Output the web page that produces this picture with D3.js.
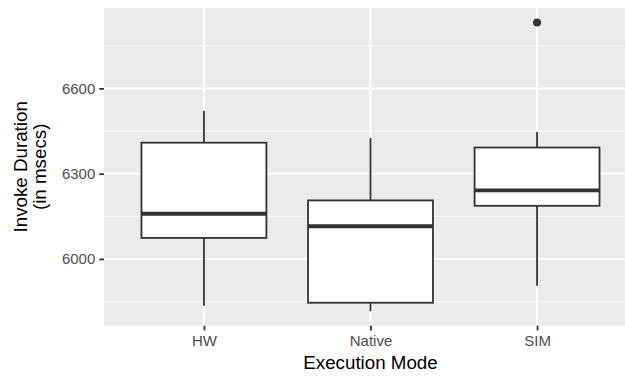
<!DOCTYPE html>
<html>
<head>
<meta charset="utf-8">
<script src="https://cdn.jsdelivr.net/npm/d3@7"></script>
<style>
  body { margin: 0; background: #fff; }
  text { font-family: "Liberation Sans", Arial, sans-serif; }
</style>
</head>
<body>
<div id="chart"></div>
<script>
const modes = ["HW", "Native", "SIM"];
const lowerWhisker = [5835, 5816, 5906];
const q1 = [6074, 5846, 6187];
const median = [6159, 6115, 6241];
const q3 = [6409, 6206, 6392];
const upperWhisker = [6521, 6425, 6447];
const outliers = [[], [], [6832]];
const yTicks = [6000, 6300, 6600];
const yMinorTicks = [5850, 6150, 6450, 6750];

const width = 625;
const height = 376;
const panel = { left: 104, top: 8, right: 637, bottom: 325.7 };

const svg = d3
  .select("#chart")
  .append("svg")
  .attr("width", width)
  .attr("height", height);

// ggplot-style 5% expansion around all data
const allVals = lowerWhisker.concat(upperWhisker, outliers.flat());
const lo = d3.min(allVals);
const hi = d3.max(allVals);
const pad = (hi - lo) * 0.05;

const y = d3
  .scaleLinear()
  .domain([lo - pad, hi + pad])
  .range([panel.bottom, panel.top]);

const x = d3
  .scalePoint()
  .domain(modes)
  .range([panel.left, panel.right])
  .padding(0.6);

const boxW = x.step() * 0.75;

svg
  .append("rect")
  .attr("x", panel.left)
  .attr("y", panel.top)
  .attr("width", panel.right - panel.left)
  .attr("height", panel.bottom - panel.top)
  .attr("fill", "#EBEBEB");

// grid
svg
  .selectAll(".minor")
  .data(yMinorTicks)
  .enter()
  .append("line")
  .attr("x1", panel.left)
  .attr("x2", panel.right)
  .attr("y1", (d) => y(d))
  .attr("y2", (d) => y(d))
  .attr("stroke", "#fff")
  .attr("stroke-width", 0.9);

svg
  .selectAll(".major")
  .data(yTicks)
  .enter()
  .append("line")
  .attr("x1", panel.left)
  .attr("x2", panel.right)
  .attr("y1", (d) => y(d))
  .attr("y2", (d) => y(d))
  .attr("stroke", "#fff")
  .attr("stroke-width", 1.8);

svg
  .selectAll(".vmajor")
  .data(modes)
  .enter()
  .append("line")
  .attr("x1", (d) => x(d))
  .attr("x2", (d) => x(d))
  .attr("y1", panel.top)
  .attr("y2", panel.bottom)
  .attr("stroke", "#fff")
  .attr("stroke-width", 1.8);

// axes
const yAxis = svg
  .append("g")
  .attr("transform", `translate(${panel.left},0)`)
  .call(
    d3.axisLeft(y).tickValues(yTicks).tickFormat(d3.format("d")).tickSize(4.7).tickPadding(4)
  );
const xAxis = svg
  .append("g")
  .attr("transform", `translate(0,${panel.bottom})`)
  .call(d3.axisBottom(x).tickSize(4.7).tickPadding(4));

[yAxis, xAxis].forEach((g) => {
  g.select(".domain").remove();
  g.selectAll(".tick line").attr("stroke", "#333333").attr("stroke-width", 1.8);
  g.selectAll(".tick text")
    .attr("fill", "#4D4D4D")
    .style("font-size", "15px")
    .style("font-family", '"Liberation Sans", Arial, sans-serif');
});
xAxis.selectAll(".tick text").attr("dy", "0.75em");

// boxes
const idx = d3.range(modes.length);
const box = svg.selectAll(".box").data(idx).enter().append("g");

box
  .append("line")
  .attr("x1", (i) => x(modes[i]))
  .attr("x2", (i) => x(modes[i]))
  .attr("y1", (i) => y(upperWhisker[i]))
  .attr("y2", (i) => y(q3[i]))
  .attr("stroke", "#333333")
  .attr("stroke-width", 1.8);

box
  .append("line")
  .attr("x1", (i) => x(modes[i]))
  .attr("x2", (i) => x(modes[i]))
  .attr("y1", (i) => y(q1[i]))
  .attr("y2", (i) => y(lowerWhisker[i]))
  .attr("stroke", "#333333")
  .attr("stroke-width", 1.8);

box
  .append("rect")
  .attr("x", (i) => x(modes[i]) - boxW / 2)
  .attr("width", boxW)
  .attr("y", (i) => y(q3[i]))
  .attr("height", (i) => y(q1[i]) - y(q3[i]))
  .attr("fill", "#fff")
  .attr("stroke", "#333333")
  .attr("stroke-width", 1.8);

box
  .append("line")
  .attr("x1", (i) => x(modes[i]) - boxW / 2)
  .attr("x2", (i) => x(modes[i]) + boxW / 2)
  .attr("y1", (i) => y(median[i]))
  .attr("y2", (i) => y(median[i]))
  .attr("stroke", "#333333")
  .attr("stroke-width", 3.8);

box
  .selectAll("circle")
  .data((i) => outliers[i].map((v) => ({ m: modes[i], v })))
  .enter()
  .append("circle")
  .attr("cx", (d) => x(d.m))
  .attr("cy", (d) => y(d.v))
  .attr("r", 4)
  .attr("fill", "#333333");

// titles
svg
  .append("text")
  .attr("x", (panel.left + panel.right) / 2)
  .attr("y", 369)
  .attr("text-anchor", "middle")
  .style("font-size", "18.75px")
  .attr("fill", "#000")
  .text("Execution Mode");

const yTitle = svg
  .append("text")
  .attr("transform", `translate(0,${(panel.top + panel.bottom) / 2}) rotate(-90)`)
  .attr("text-anchor", "middle")
  .style("font-size", "18.75px")
  .attr("fill", "#000");
yTitle.append("tspan").attr("x", 0).attr("y", 27).text("Invoke Duration");
yTitle.append("tspan").attr("x", 0).attr("y", 46).text("(in msecs)");
</script>
</body>
</html>
